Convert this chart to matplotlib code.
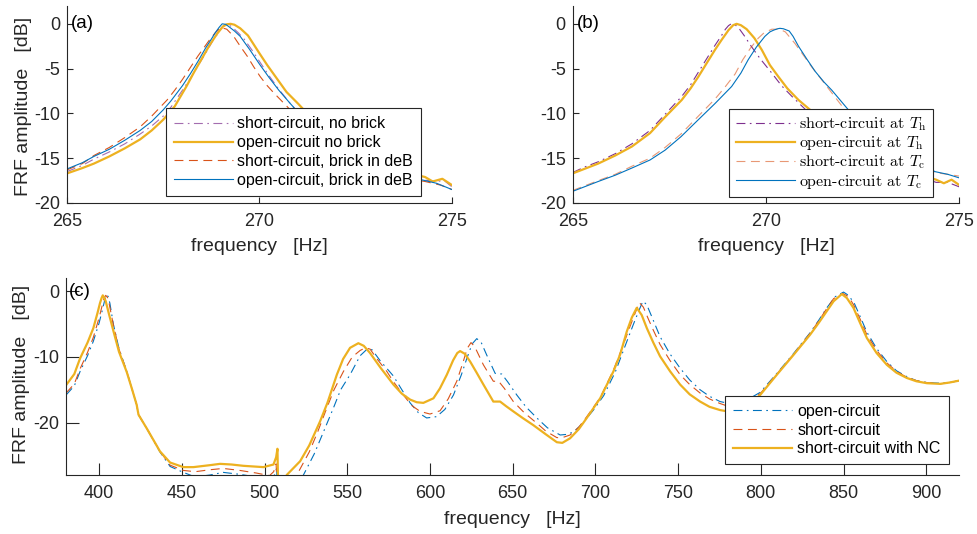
import matplotlib
matplotlib.use("Agg")
import matplotlib.pyplot as plt

plt.rcParams['font.family'] = ['Liberation Sans', 'DejaVu Sans']
plt.rcParams['mathtext.fontset'] = 'cm'
plt.rcParams['axes.unicode_minus'] = False

BLUE = '#0072BD'
RED = '#D95319'
ORANGE = '#EDB120'
PURPLE = '#7E2F8E'
DARK = '#262626'

# ---- panel (a): brick / no brick ----
fa_pu = [265, 265.4, 265.7, 266.1, 266.5, 266.9, 267.2, 267.5, 267.7, 268.0, 268.2, 268.4, 268.6, 268.8,
         268.9, 269.0, 269.1, 269.2, 269.3, 269.45, 269.6, 269.8, 270.0, 270.25, 270.5, 270.8,
         271.2, 271.7, 272.2, 272.7, 273.2, 273.7, 274.2, 274.6, 274.8, 275]
va_pu = [-16.5, -15.8, -15.1, -14.3, -13.4, -12.3, -11.4, -10.3, -9.3, -7.4, -6.1, -4.7, -3.3, -1.8,
         -1.2, -0.5, -0.1, -0.1, -0.4, -1.0, -1.7, -2.9, -4.2, -5.8, -7.3, -8.9,
         -10.9, -12.9, -14.4, -15.5, -16.3, -16.9, -17.4, -17.6, -17.5, -18.2]

fa_or = [265, 265.4, 265.7, 266.1, 266.5, 266.9, 267.2, 267.5, 267.8, 268.1, 268.3, 268.5, 268.7,
         268.9, 269.05, 269.15, 269.25, 269.35, 269.5, 269.7, 269.85, 270.0, 270.2, 270.35,
         270.5, 270.7, 271.0, 271.5, 272, 272.5, 273, 273.5, 274, 274.3, 274.5, 274.75, 275]
va_or = [-16.7, -16.1, -15.6, -14.8, -13.9, -12.9, -11.9, -10.7, -9.2, -7.0, -5.4, -3.9, -2.4,
         -1.1, -0.3, -0.05, 0.0, -0.1, -0.5, -1.3, -2.3, -3.3, -4.6, -5.5,
         -6.4, -7.6, -8.9, -11.2, -13.0, -14.4, -15.4, -16.1, -16.8, -17.1, -17.6, -17.3, -18.0]

fa_rd = [265, 265.4, 265.7, 266.1, 266.5, 266.9, 267.2, 267.4, 267.6, 267.8, 268.0, 268.2, 268.4,
         268.55, 268.7, 268.85, 268.99, 269.15, 269.33, 269.5, 269.68, 269.85, 270.02, 270.2, 270.37,
         270.71, 271.1, 271.6, 272.1, 272.6, 273.1, 273.6, 274.3, 274.7, 275]
va_rd = [-16.3, -15.6, -14.7, -13.8, -12.7, -11.5, -10.3, -9.4, -8.5, -7.4, -6.2, -4.9, -3.6,
         -2.7, -1.8, -1.0, -0.4, -0.6, -1.4, -2.5, -3.6, -4.8, -5.9, -6.9, -7.7,
         -9.2, -11.0, -13.0, -14.6, -15.7, -16.5, -17.1, -17.6, -18.0, -18.5]

fa_bl = [265, 265.4, 265.7, 266.1, 266.5, 266.9, 267.2, 267.5, 267.7, 268.0, 268.2, 268.4, 268.6,
         268.75, 268.85, 268.95, 269.03, 269.12, 269.2, 269.35, 269.5, 269.75, 270.0, 270.25, 270.5,
         270.8, 271.2, 271.7, 272.2, 272.7, 273.2, 273.7, 274.2, 274.6, 275]
va_bl = [-16.2, -15.5, -14.8, -14.0, -13.0, -11.9, -10.9, -9.6, -8.6, -6.9, -5.6, -4.2, -2.7,
         -1.7, -1.0, -0.4, 0.0, -0.05, -0.3, -0.8, -1.4, -2.9, -4.5, -6.0, -7.4,
         -8.9, -10.8, -12.8, -14.3, -15.5, -16.3, -16.9, -17.4, -17.8, -18.5]

labels_a = ['short-circuit, no brick', 'open-circuit no brick',
            'short-circuit, brick in deB', 'open-circuit, brick in deB']

# ---- panel (b): hot / cold temperature ----
fb_pu = [265, 265.3, 265.66, 266.1, 266.53, 267.0, 267.39, 267.82, 268.05, 268.25, 268.45, 268.68,
         268.85, 268.95, 269.03, 269.1, 269.2, 269.3, 269.45, 269.6, 269.85, 270.15,
         270.4, 270.67, 271.1, 271.6, 272.1, 272.6, 273.1, 273.6, 274.0, 274.4, 274.7, 275]
vb_pu = [-16.6, -16.0, -15.4, -14.5, -13.4, -11.9, -10.1, -8.1, -6.8, -5.4, -4.0, -2.4,
         -1.3, -0.6, -0.2, 0.0, -0.1, -0.5, -1.4, -2.4, -3.9, -5.5,
         -6.9, -8.1, -9.9, -11.9, -13.6, -15.0, -15.9, -16.6, -17.1, -17.7, -17.7, -18.2]

fb_or = [265, 265.3, 265.66, 266.1, 266.53, 267.0, 267.39, 267.82, 268.05, 268.25, 268.45, 268.68,
         268.85, 269.03, 269.15, 269.24, 269.35, 269.5, 269.7, 269.89, 270.1, 270.32,
         270.55, 270.84, 271.14, 271.6, 272.1, 272.6, 273.1, 273.6, 274.0, 274.4, 274.6, 274.8, 275]
vb_or = [-16.7, -16.2, -15.6, -14.7, -13.7, -12.2, -10.4, -8.5, -7.2, -5.9, -4.5, -2.9,
         -1.8, -0.7, -0.15, 0.0, -0.15, -0.6, -1.6, -2.9, -4.6, -5.9,
         -7.2, -8.5, -9.6, -11.5, -13.3, -14.7, -15.7, -16.4, -16.9, -17.4, -17.8, -17.4, -18.0]

fb_rd = [265, 265.3, 265.66, 266.1, 266.53, 267.0, 267.39, 267.8, 268.25, 268.68, 268.95, 269.2,
         269.4, 269.6, 269.8, 269.95, 270.05, 270.15, 270.2, 270.3, 270.4, 270.5,
         270.75, 271.0, 271.18, 271.45, 271.7, 272.04, 272.5, 273.0, 273.5, 274.0, 274.37, 274.7, 275]
vb_rd = [-18.6, -18.1, -17.5, -16.8, -15.9, -15.0, -13.8, -12.3, -10.3, -8.4, -7.0, -5.6,
         -4.0, -2.7, -1.6, -1.0, -0.8, -0.6, -0.6, -0.6, -0.7, -0.9,
         -2.2, -3.7, -4.8, -6.3, -7.7, -9.6, -11.7, -13.4, -14.7, -15.7, -16.6, -16.8, -17.0]

fb_bl = [265, 265.3, 265.66, 266.1, 266.53, 267.0, 267.39, 267.8, 268.25, 268.68, 269.11, 269.35,
         269.54, 269.75, 269.97, 270.1, 270.2, 270.3, 270.36, 270.45, 270.6, 270.7,
         270.84, 271.05, 271.27, 271.5, 271.7, 272.13, 272.6, 273.1, 273.6, 274.0, 274.37, 274.7, 275]
vb_bl = [-18.7, -18.2, -17.6, -16.9, -16.1, -15.2, -14.1, -12.6, -10.7, -8.9, -7.0, -5.5,
         -4.0, -2.6, -1.4, -0.9, -0.7, -0.55, -0.5, -0.55, -0.8, -1.4,
         -2.5, -3.9, -5.3, -6.5, -7.4, -9.6, -11.6, -13.3, -14.6, -15.6, -16.5, -16.8, -17.2]

labels_b = [r'short-circuit at $T_\mathrm{h}$', r'open-circuit at $T_\mathrm{h}$',
            r'short-circuit at $T_\mathrm{c}$', r'open-circuit at $T_\mathrm{c}$']

# ---- panel (c): broadband ----
fc_bl = [380, 385, 388.5, 393, 396.5, 400, 402, 403.5, 404.6, 405.5, 406.5, 408.6, 412, 416.7, 420,
         422.7, 423.8, 428.8, 436.8, 442.9, 450.9, 458, 467, 475, 485, 495, 503, 506, 507.3, 507.8,
         510, 523.5, 530, 535, 541.6, 546, 551.7, 557.8, 562, 565, 570, 577.9, 583, 588, 593, 598,
         604, 609, 614.2, 619, 622.3, 625.5, 628.3, 631, 634.3, 639.4, 643.4, 647, 652.5, 658, 664.6,
         671, 678.7, 683, 687, 692, 698.8, 705, 712, 718, 723, 726.5, 728.7, 731, 734, 739.1, 745,
         751.2, 757, 763.3, 769, 775.4, 781, 786, 792, 799.6, 809.7, 819.7, 829.8, 835, 839.9,
         845, 850, 853, 856.5, 860, 864.1, 870, 876.2, 882, 888.3, 894, 900.4, 908.4, 914, 920]
vc_bl = [-15.8, -14.4, -12.2, -9.8, -7.6, -4.8, -2.8, -1.2, -0.5, -0.8, -1.8, -5.0, -8.7, -12.2, -15.0,
         -17.3, -18.8, -20.9, -24.5, -26.7, -27.6, -28.3, -28.0, -27.6, -27.9, -28.3, -28.6, -28.0, -27.0, -31,
         -33, -28.0, -24.8, -21.8, -17.8, -15.0, -12.7, -9.8, -8.8, -8.9, -10.6, -12.9, -15.0, -17.0, -18.5, -19.3,
         -19.1, -18.0, -15.8, -12.7, -10.2, -8.0, -7.2, -7.8, -9.7, -12.5, -12.6, -13.8, -15.8, -17.6, -19.3,
         -20.8, -21.9, -21.8, -21.4, -20.2, -18.1, -15.9, -12.3, -8.3, -5.0, -2.8, -1.5, -2.0, -3.8, -6.9, -9.5,
         -11.7, -13.5, -15.0, -16.0, -16.8, -17.1, -17.0, -16.5, -15.4, -12.5, -9.5, -6.3, -4.4, -2.5,
         -0.8, -0.1, -0.6, -1.8, -3.8, -6.2, -8.7, -10.7, -12.1, -13.0, -13.6, -13.9, -14.0, -13.9, -13.6]

fc_rd = [380, 385, 388.5, 393, 396.5, 400, 402, 403, 404, 405, 406, 408.6, 412, 416.7, 420,
         422.7, 423.8, 428.8, 436.8, 442.9, 450.9, 458, 467, 475, 485, 495, 503, 505.5, 507, 507.6,
         510, 519.5, 527, 532, 537.6, 542, 547.7, 553, 557.8, 561, 563.8, 568, 573.9, 578, 583.9, 589,
         594, 600, 606.1, 611, 616.2, 620, 622.5, 624.8, 627, 632.3, 638.3, 641.5, 645, 650.4, 657,
         664.6, 670, 676.7, 680, 684.7, 690, 694.8, 702.9, 710.9, 716, 721, 724.5, 726.6, 729, 732, 735,
         739.1, 745, 751.2, 757, 763.3, 769, 775.4, 780, 786, 792, 799.6, 809.7, 819.7, 829.8, 835,
         839.9, 844, 849.5, 853, 856, 860, 864.1, 870, 876.2, 882, 888.3, 894, 900.4, 908.4, 914, 920]
vc_rd = [-15.5, -14.1, -11.8, -9.3, -7.0, -4.0, -2.0, -1.0, -0.6, -0.9, -1.8, -5.1, -8.8, -12.2, -15.0,
         -17.3, -18.8, -20.9, -24.4, -26.5, -27.3, -27.5, -27.2, -27.0, -27.3, -27.7, -28.1, -27.5, -26.3, -30,
         -33, -28.0, -24.5, -21.5, -17.8, -15.0, -12.2, -10.0, -9.0, -8.6, -8.8, -10.3, -12.2, -13.8, -15.8, -17.4,
         -18.3, -18.7, -18.2, -16.4, -13.7, -10.8, -8.7, -7.8, -8.4, -11.2, -13.7, -13.7, -14.8, -16.8, -18.5,
         -20.1, -21.3, -22.3, -22.3, -21.9, -20.7, -19.1, -16.2, -12.0, -8.7, -5.3, -3.0, -1.7, -2.4, -4.2, -5.9,
         -8.1, -10.5, -12.7, -14.2, -15.5, -16.4, -17.1, -17.5, -17.4, -16.9, -15.6, -12.6, -9.6, -6.4, -4.5,
         -2.6, -1.1, -0.3, -0.8, -2.0, -4.2, -6.6, -9.0, -10.9, -12.2, -13.1, -13.6, -13.9, -14.1, -13.9, -13.6]

fc_or = [380, 385, 388.5, 393, 396.5, 399, 400.5, 401.5, 402.2, 403, 404, 406, 408.6, 412, 416.7, 420,
         422.7, 423.8, 428.8, 436.8, 442.9, 450.9, 457, 467, 473.1, 480, 487.2, 499.3, 505.4, 507, 507.8,
         508.3, 510, 513.4, 521.5, 527, 533.6, 538, 543.7, 547.5, 551.7, 556.7, 560, 563.8, 570, 577.9,
         583, 588, 592, 596, 602.1, 606, 610.2, 614, 616.5, 618.2, 621, 624.3, 628, 632.3, 638.3, 642.4,
         646, 650.4, 656, 662.5, 670.6, 676.7, 680, 684.7, 690, 694.8, 702.9, 710.9, 715, 719, 722, 725,
         728, 731.1, 735, 739.1, 745.2, 751.2, 757, 763.3, 769, 775.4, 780, 785.5, 792, 799.6, 809.7,
         819.7, 829.8, 835, 839.9, 844, 849, 852, 856, 860, 864.1, 870, 876.2, 882, 888.3, 894,
         900.4, 908.4, 914, 920]
vc_or = [-14.3, -12.6, -10.2, -7.8, -5.6, -3.3, -1.8, -1.0, -0.6, -0.9, -1.5, -3.5, -6.0, -9.2, -12.3, -15.0,
         -17.3, -18.8, -20.9, -24.4, -26.1, -26.8, -26.8, -26.5, -26.3, -26.4, -26.6, -26.8, -26.4, -25.3, -24.0,
         -31, -33, -28.0, -25.9, -23.5, -19.8, -17.0, -12.7, -10.3, -8.6, -7.9, -8.3, -9.4, -11.6, -14.2,
         -15.6, -16.5, -16.9, -17.0, -16.3, -14.8, -12.7, -10.5, -9.4, -9.1, -9.5, -10.7, -12.3, -14.2, -16.8, -16.8,
         -17.5, -18.3, -19.3, -20.4, -21.9, -23.0, -23.1, -22.4, -21.0, -19.3, -16.3, -12.2, -9.6, -6.1, -4.0, -2.5,
         -3.6, -5.6, -7.8, -9.9, -12.2, -14.2, -15.7, -16.8, -17.6, -18.1, -18.3, -18.2, -17.4, -15.8, -12.7,
         -9.7, -6.6, -4.8, -3.0, -1.5, -0.4, -1.0, -2.5, -4.8, -7.1, -9.4, -11.2, -12.4, -13.2, -13.7,
         -14.0, -14.1, -13.9, -13.6]

labels_c = ['open-circuit', 'short-circuit', 'short-circuit with NC']

DASH = (8, 5)
DASHDOT = (8, 4, 1.5, 4)


def style_axes(ax, ticklen):
    for side in ['top', 'right']:
        ax.spines[side].set_visible(False)
    for side in ['left', 'bottom']:
        ax.spines[side].set_color(DARK)
        ax.spines[side].set_linewidth(0.8)
    ax.tick_params(direction='in', length=ticklen, width=0.8, colors=DARK, labelsize=13)
    ax.tick_params(axis='x', pad=7)
    ax.tick_params(axis='y', pad=5)


def make_legend(ax, anchor, prop, spacing=0.24, pad=0.5):
    leg = ax.legend(loc='lower right', bbox_to_anchor=anchor, borderaxespad=0,
                    fancybox=False, framealpha=1, edgecolor=DARK, prop=prop,
                    handlelength=3.7, handletextpad=0.3, labelspacing=spacing,
                    borderpad=pad)
    leg.get_frame().set_linewidth(0.8)
    return leg


fig = plt.figure(figsize=(9.77, 5.34), dpi=100)
ax_a = fig.add_axes([0.0686, 0.6199, 0.394, 0.369])
ax_b = fig.add_axes([0.5862, 0.6199, 0.3957, 0.369])
ax_c = fig.add_axes([0.0676, 0.1105, 0.9143, 0.3683])

# panel a
ax_a.plot(fa_pu, va_pu, color=PURPLE, lw=0.8, alpha=0.7, linestyle=(0, DASHDOT), label=labels_a[0])
ax_a.plot(fa_or, va_or, color=ORANGE, lw=1.6, label=labels_a[1])
ax_a.plot(fa_rd, va_rd, color=RED, lw=0.8, linestyle=(0, DASH), label=labels_a[2])
ax_a.plot(fa_bl, va_bl, color=BLUE, lw=0.8, label=labels_a[3])
ax_a.set_xlim(265, 275)
ax_a.set_ylim(-20, 2)
ax_a.set_xticks([265, 270, 275])
ax_a.set_yticks([-20, -15, -10, -5, 0])
style_axes(ax_a, 4)
ax_a.set_xlabel('frequency   [Hz]', fontsize=14, color=DARK)
ax_a.xaxis.set_label_coords(0.5, -0.18)
ax_a.set_ylabel('FRF amplitude   [dB]', fontsize=14, color=DARK)
ax_a.yaxis.set_label_coords(-0.09, 0.49)
ax_a.text(265.1, 0, '(a)', fontsize=13.5, va='center', ha='left', color='black')
make_legend(ax_a, (0.92, 0.036), {'family': 'Liberation Sans', 'size': 11.5})

# panel b
ax_b.plot(fb_pu, vb_pu, color=PURPLE, lw=0.8, linestyle=(0, DASHDOT), label=labels_b[0])
ax_b.plot(fb_or, vb_or, color=ORANGE, lw=1.6, label=labels_b[1])
ax_b.plot(fb_rd, vb_rd, color=RED, lw=0.8, alpha=0.6, linestyle=(0, DASH), label=labels_b[2])
ax_b.plot(fb_bl, vb_bl, color=BLUE, lw=0.8, label=labels_b[3])
ax_b.set_xlim(265, 275)
ax_b.set_ylim(-20, 2)
ax_b.set_xticks([265, 270, 275])
ax_b.set_yticks([-20, -15, -10, -5, 0])
style_axes(ax_b, 4)
ax_b.set_xlabel('frequency   [Hz]', fontsize=14, color=DARK)
ax_b.xaxis.set_label_coords(0.5, -0.18)
ax_b.text(265.1, 0, '(b)', fontsize=13.5, va='center', ha='left', color='black')
make_legend(ax_b, (0.933, 0.030), {'family': 'cmr10', 'size': 11.5}, spacing=0.08, pad=0.4)

# panel c
ax_c.plot(fc_bl, vc_bl, color=BLUE, lw=0.8, linestyle=(0, DASHDOT), label=labels_c[0])
ax_c.plot(fc_rd, vc_rd, color=RED, lw=0.8, linestyle=(0, DASH), label=labels_c[1])
ax_c.plot(fc_or, vc_or, color=ORANGE, lw=1.6, label=labels_c[2])
ax_c.set_xlim(380, 920)
ax_c.set_ylim(-28, 2)
ax_c.set_xticks(list(range(400, 901, 50)))
ax_c.set_yticks([-20, -10, 0])
style_axes(ax_c, 9)
ax_c.set_xlabel('frequency   [Hz]', fontsize=14, color=DARK)
ax_c.xaxis.set_label_coords(0.5, -0.185)
ax_c.set_ylabel('FRF amplitude   [dB]', fontsize=14, color=DARK)
ax_c.yaxis.set_label_coords(-0.04, 0.51)
ax_c.text(381.8, 0, '(c)', fontsize=13.5, va='center', ha='left', color='black')
make_legend(ax_c, (0.988, 0.054), {'family': 'Liberation Sans', 'size': 11.5})

fig.savefig('out.png', dpi=100)
